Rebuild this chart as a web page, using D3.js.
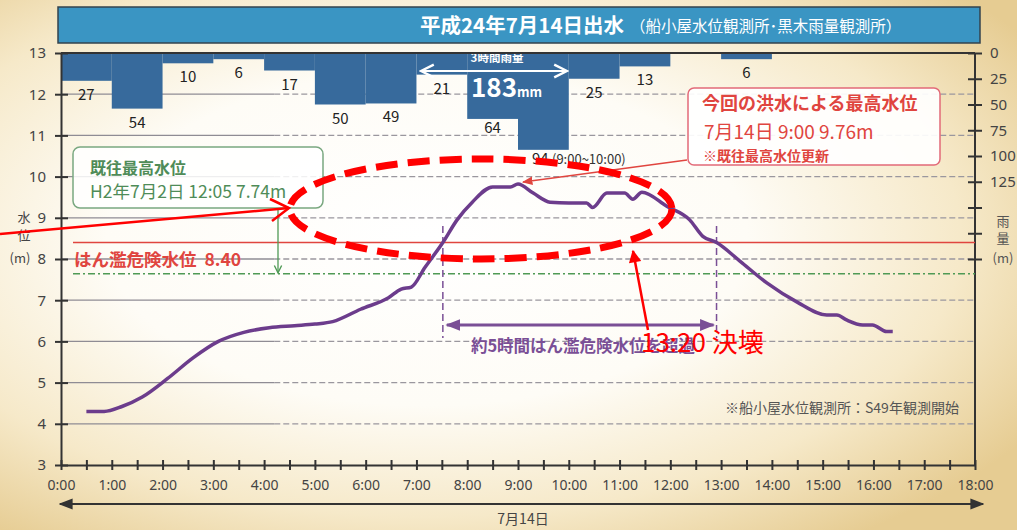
<!DOCTYPE html>
<html>
<head>
<meta charset="utf-8">
<script src="https://cdn.jsdelivr.net/npm/d3@7"></script>
<style>
  body { margin: 0; background: #fff; }
  svg { display: block; font-family: "Noto Sans CJK JP", "Noto Sans", sans-serif; }
</style>
</head>
<body>
<svg id="chart"></svg>
<script>
// water level at 船小屋 (hours after 0:00 on 7/14, metres)
const levelHours = [0.5, 0.85, 1.2, 1.6, 2.1, 2.6, 3.1, 3.6, 4.1, 4.6, 5.0, 5.35, 5.9, 6.45, 6.7, 6.9, 7.17, 7.52, 7.8, 8.1, 8.5, 8.85, 9.0, 9.3, 9.63, 10.0, 10.35, 10.47, 10.75, 11.1, 11.26, 11.44, 11.93, 12.38, 12.64, 12.91, 13.37, 13.9, 14.49, 15.08, 15.28, 15.47, 15.79, 15.98, 16.26, 16.38];
const levels = [4.30, 4.30, 4.42, 4.65, 5.10, 5.60, 6.00, 6.22, 6.33, 6.38, 6.42, 6.48, 6.78, 7.06, 7.27, 7.32, 7.80, 8.40, 8.95, 9.38, 9.75, 9.75, 9.82, 9.60, 9.38, 9.36, 9.36, 9.25, 9.60, 9.60, 9.45, 9.62, 9.28, 8.95, 8.55, 8.40, 7.95, 7.42, 6.96, 6.64, 6.64, 6.52, 6.40, 6.40, 6.24, 6.24];

// hourly rainfall at 黒木 (bar starts at hour, mm)
const rainHours = [0, 1, 2, 3, 4, 5, 6, 7, 8, 9, 10, 11, 12, 13];
const rainMm = [27, 54, 10, 6, 17, 50, 49, 21, 64, 94, 25, 13, 0, 6];

const levelTicks = [3, 4, 5, 6, 7, 8, 9, 10, 11, 12, 13];
const rainTicks = [0, 25, 50, 75, 100, 125, 150, 175, 200];
const rainLabelled = [0, 25, 50, 75, 100, 125];
const timeTicks = d3.range(0, 18.01, 0.5);

const dangerLevel = 8.40;
const recordLine = 7.64;
const overStart = 7.52, overEnd = 12.91;

const W = 1017, H = 530;
const svg = d3.select('#chart').attr('width', W).attr('height', H);

// background glow
const defs = svg.append('defs');
const grad = defs.append('radialGradient').attr('id', 'bg')
  .attr('cx', '42%').attr('cy', '45%').attr('r', '70%');
grad.append('stop').attr('offset', '0%').attr('stop-color', '#ffffff');
grad.append('stop').attr('offset', '45%').attr('stop-color', '#fefcf6');
grad.append('stop').attr('offset', '75%').attr('stop-color', '#f6e9c9');
grad.append('stop').attr('offset', '100%').attr('stop-color', '#e6cc92');
svg.append('rect').attr('width', W).attr('height', H).attr('fill', 'url(#bg)');

const x = d3.scaleLinear().domain([0, 18]).range([61, 975]);
const y = d3.scaleLinear().domain([3, 13]).range([465, 53]);
const yRain = d3.scaleLinear().domain([0, 200]).range([y(13), y(8)]);

// title banner
svg.append('rect').attr('x', 58).attr('y', 7).attr('width', 922).attr('height', 36)
  .attr('fill', '#3a95c3').attr('stroke', '#33434d').attr('stroke-width', 1.5);
svg.append('text').attr('x', 420).attr('y', 33).attr('fill', '#fff')
  .attr('font-size', 20.5).attr('font-weight', 'bold').text('平成24年7月14日出水');
svg.append('text').attr('x', 630).attr('y', 32).attr('fill', '#fff')
  .attr('font-size', 15.5).text('（船小屋水位観測所･黒木雨量観測所）');

// grid lines: solid near the axis, dashed further right
const grid = svg.append('g');
levelTicks.filter(d => d > 3 && d < 13).forEach(v => {
  grid.append('line').attr('x1', x(0)).attr('x2', x(4.2)).attr('y1', y(v)).attr('y2', y(v))
    .attr('stroke', '#8f8c94').attr('stroke-width', 1.3);
  grid.append('line').attr('x1', x(4.2)).attr('x2', x(18)).attr('y1', y(v)).attr('y2', y(v))
    .attr('stroke', '#9a979e').attr('stroke-width', 1.3).attr('stroke-dasharray', '6,3');
});

// rain bars hanging from the top
svg.append('g').selectAll('rect')
  .data(rainHours.map((h, i) => ({h, v: rainMm[i]})))
  .join('rect')
    .attr('x', d => x(d.h))
    .attr('y', yRain(0))
    .attr('width', d => x(d.h + 1) - x(d.h))
    .attr('height', d => yRain(d.v) - yRain(0))
    .attr('fill', '#376a9c');

svg.append('g').selectAll('text')
  .data(rainHours.map((h, i) => ({h, v: rainMm[i]})).filter(d => d.v > 0))
  .join('text')
    .attr('x', d => d.v === 94 ? x(d.h) + 14 : x(d.h + 0.5))
    .attr('y', d => yRain(d.v) + (d.v > 60 ? 14 : 19))
    .attr('text-anchor', d => d.v === 94 ? 'start' : 'middle')
    .attr('font-size', 15).attr('fill', '#222')
    .text(d => d.v);
svg.append('text').attr('x', x(9) + 34).attr('y', yRain(94) + 14)
  .attr('font-size', 13).attr('fill', '#333').text('(9:00~10:00)');

// 3 hour rainfall note
svg.append('text').attr('x', 497).attr('y', 62).attr('text-anchor', 'middle')
  .attr('font-size', 11.5).attr('font-weight', 'bold').attr('fill', '#fff').text('3時間雨量');
defs.append('marker').attr('id', 'wh').attr('viewBox', '0 0 10 10').attr('refX', 9).attr('refY', 5)
  .attr('markerWidth', 8).attr('markerHeight', 8).attr('orient', 'auto-start-reverse')
  .append('path').attr('d', 'M1,1 L9,5 L1,9').attr('fill', 'none').attr('stroke', '#fff').attr('stroke-width', 1.5);
svg.append('line').attr('x1', 421).attr('x2', 567).attr('y1', 71).attr('y2', 71)
  .attr('stroke', '#fff').attr('stroke-width', 2)
  .attr('marker-start', 'url(#wh)').attr('marker-end', 'url(#wh)');
const t183 = svg.append('text').attr('x', 471).attr('y', 97).attr('fill', '#fff').attr('font-weight', 'bold');
t183.append('tspan').attr('font-size', 26).text('183');
t183.append('tspan').attr('font-size', 13).text('mm');

// frame / axes
const axisColor = '#333';
svg.append('line').attr('x1', x(0)).attr('x2', x(18)).attr('y1', y(13)).attr('y2', y(13))
  .attr('stroke', axisColor).attr('stroke-width', 2);

const left = svg.append('g').attr('transform', `translate(${x(0)},0)`)
  .call(d3.axisLeft(y).tickValues(levelTicks).tickSize(6).tickPadding(9).tickSizeOuter(0));
left.selectAll('.tick line').attr('x2', 7).attr('x1', -6).attr('stroke', axisColor).attr('stroke-width', 2);
left.select('.domain').attr('stroke', axisColor).attr('stroke-width', 2);
left.selectAll('.tick text').attr('font-size', 15).attr('fill', '#444')
  .attr('font-family', '"Noto Sans", sans-serif');

const right = svg.append('g').attr('transform', `translate(${x(18)},0)`)
  .call(d3.axisRight(yRain).tickValues(rainTicks).tickSize(7).tickPadding(8).tickSizeOuter(0)
    .tickFormat(d => rainLabelled.includes(d) ? d : ''));
right.selectAll('.tick line').attr('x1', -7).attr('stroke', axisColor).attr('stroke-width', 2);
right.select('.domain').remove();
svg.append('line').attr('x1', x(18)).attr('x2', x(18)).attr('y1', y(13)).attr('y2', y(3))
  .attr('stroke', axisColor).attr('stroke-width', 2);
right.selectAll('.tick text').attr('font-size', 15).attr('fill', '#444')
  .attr('font-family', '"Noto Sans", sans-serif');

const bottom = svg.append('g').attr('transform', `translate(0,${y(3)})`)
  .call(d3.axisBottom(x).tickValues(timeTicks).tickSize(5).tickPadding(10).tickSizeOuter(0)
    .tickFormat(d => d % 1 === 0 ? `${d}:00` : ''));
bottom.selectAll('.tick line').attr('y1', -5).attr('stroke', axisColor).attr('stroke-width', 2);
bottom.select('.domain').attr('stroke', axisColor).attr('stroke-width', 2);
bottom.selectAll('.tick text').attr('font-size', 14).attr('fill', '#444')
  .attr('font-family', '"Noto Sans", sans-serif');

// axis titles
[['水', 222], ['位', 240]].forEach(([t, yy]) =>
  svg.append('text').attr('x', 24).attr('y', yy).attr('text-anchor', 'middle')
    .attr('font-size', 13).attr('fill', '#444').text(t));
svg.append('text').attr('x', 20).attr('y', 263).attr('text-anchor', 'middle')
  .attr('font-size', 13).attr('fill', '#444').text('(m)');
[['雨', 226], ['量', 243]].forEach(([t, yy]) =>
  svg.append('text').attr('x', 1003).attr('y', yy).attr('text-anchor', 'middle')
    .attr('font-size', 13).attr('fill', '#555').text(t));
svg.append('text').attr('x', 1003).attr('y', 263).attr('text-anchor', 'middle')
  .attr('font-size', 13).attr('fill', '#555').text('(m)');

// date arrow
defs.append('marker').attr('id', 'blk').attr('viewBox', '0 0 10 10').attr('refX', 9).attr('refY', 5)
  .attr('markerWidth', 7).attr('markerHeight', 7).attr('orient', 'auto-start-reverse')
  .append('path').attr('d', 'M0,1 L10,5 L0,9 Z').attr('fill', '#333');
svg.append('line').attr('x1', 60).attr('x2', 983).attr('y1', 504).attr('y2', 504)
  .attr('stroke', '#333').attr('stroke-width', 2)
  .attr('marker-start', 'url(#blk)').attr('marker-end', 'url(#blk)');
svg.append('text').attr('x', 523).attr('y', 524).attr('text-anchor', 'middle')
  .attr('font-size', 14).attr('fill', '#444').text('7月14日');

// danger level and previous record lines
svg.append('line').attr('x1', 73).attr('x2', x(18)).attr('y1', y(dangerLevel)).attr('y2', y(dangerLevel))
  .attr('stroke', '#e0453f').attr('stroke-width', 1.5);
svg.append('text').attr('x', 74).attr('y', 266).attr('font-size', 17.5).attr('font-weight', 'bold')
  .attr('fill', '#e0453f').attr('xml:space', 'preserve').text(`はん濫危険水位  ${dangerLevel.toFixed(2)}`);
svg.append('line').attr('x1', 73).attr('x2', x(18)).attr('y1', y(recordLine)).attr('y2', y(recordLine))
  .attr('stroke', '#4f9a55').attr('stroke-width', 1.5).attr('stroke-dasharray', '7,3,2,3');

// previous record box
svg.append('rect').attr('x', 73).attr('y', 147).attr('width', 250).attr('height', 61).attr('rx', 7)
  .attr('fill', '#fff').attr('fill-opacity', 0.85).attr('stroke', '#7aa880').attr('stroke-width', 1.5);
svg.append('text').attr('x', 90).attr('y', 174).attr('font-size', 16).attr('font-weight', 'bold')
  .attr('fill', '#4f8c58').text('既往最高水位');
svg.append('text').attr('x', 90).attr('y', 198).attr('font-size', 17.5)
  .attr('fill', '#4f8c58').text('H2年7月2日 12:05 7.74m');
defs.append('marker').attr('id', 'grn').attr('viewBox', '0 0 10 10').attr('refX', 9).attr('refY', 5)
  .attr('markerWidth', 7).attr('markerHeight', 7).attr('orient', 'auto')
  .append('path').attr('d', 'M1,1 L9,5 L1,9').attr('fill', 'none').attr('stroke', '#4f9a55').attr('stroke-width', 1.5);
svg.append('line').attr('x1', 278).attr('x2', 278).attr('y1', 210).attr('y2', y(recordLine) - 1)
  .attr('stroke', '#4f9a55').attr('stroke-width', 1.3).attr('marker-end', 'url(#grn)');

// exceedance span
[overStart, overEnd].forEach(h =>
  svg.append('line').attr('x1', x(h)).attr('x2', x(h)).attr('y1', 226).attr('y2', 338)
    .attr('stroke', '#7a4f96').attr('stroke-width', 1.5).attr('stroke-dasharray', '7,4'));
defs.append('marker').attr('id', 'pur').attr('viewBox', '0 0 10 10').attr('refX', 9).attr('refY', 5)
  .attr('markerWidth', 5).attr('markerHeight', 5).attr('orient', 'auto-start-reverse')
  .append('path').attr('d', 'M0,1 L10,5 L0,9 Z').attr('fill', '#7a4f96');
svg.append('line').attr('x1', x(overStart) + 4).attr('x2', x(overEnd) - 3).attr('y1', 325).attr('y2', 325)
  .attr('stroke', '#7a4f96').attr('stroke-width', 3)
  .attr('marker-start', 'url(#pur)').attr('marker-end', 'url(#pur)');
svg.append('text').attr('x', 583).attr('y', 352).attr('text-anchor', 'middle')
  .attr('font-size', 16.5).attr('font-weight', 'bold').attr('fill', '#7a4f96')
  .text('約5時間はん濫危険水位を超過');

// water level line
svg.append('path')
  .datum(levelHours.map((h, i) => [h, levels[i]]))
  .attr('d', d3.line().x(d => x(d[0])).y(d => y(d[1])).curve(d3.curveMonotoneX))
  .attr('fill', 'none').attr('stroke', '#6c3c8c').attr('stroke-width', 3.5)
  .attr('stroke-linejoin', 'round');

// this flood's record box
svg.append('rect').attr('x', 688).attr('y', 88).attr('width', 252).attr('height', 77).attr('rx', 6)
  .attr('fill', '#fff').attr('fill-opacity', 0.92).attr('stroke', '#e26a78').attr('stroke-width', 1.5);
svg.append('text').attr('x', 702).attr('y', 110).attr('font-size', 18).attr('font-weight', 'bold')
  .attr('fill', '#e0453f').text('今回の洪水による最高水位');
svg.append('text').attr('x', 704).attr('y', 138.5).attr('font-size', 19)
  .attr('fill', '#e0453f').text('7月14日 9:00 9.76m');
svg.append('text').attr('x', 703).attr('y', 161).attr('font-size', 14).attr('font-weight', 'bold')
  .attr('fill', '#e0453f').text('※既往最高水位更新');
defs.append('marker').attr('id', 'rd').attr('viewBox', '0 0 10 10').attr('refX', 9).attr('refY', 5)
  .attr('markerWidth', 7).attr('markerHeight', 7).attr('orient', 'auto')
  .append('path').attr('d', 'M0,1 L10,5 L0,9 Z').attr('fill', '#e0453f');
svg.append('line').attr('x1', 687).attr('y1', 160).attr('x2', x(9) + 5).attr('y2', y(9.82) - 2)
  .attr('stroke', '#e0453f').attr('stroke-width', 1.5).attr('marker-end', 'url(#rd)');

// observation note
svg.append('text').attr('x', 725).attr('y', 413).attr('font-size', 14).attr('fill', '#555')
  .text('※船小屋水位観測所：S49年観測開始');

// overlaid red markup
svg.append('ellipse').attr('cx', x(8.27)).attr('cy', 209).attr('rx', 191).attr('ry', 50)
  .attr('fill', 'none').attr('stroke', '#ff0000').attr('stroke-width', 7).attr('stroke-dasharray', '22,10');
svg.append('line').attr('x1', 0).attr('y1', 234).attr('x2', 289).attr('y2', 208)
  .attr('stroke', '#ff0000').attr('stroke-width', 2.5);
svg.append('path').attr('d', 'M270,199 L289,208 L272,221')
  .attr('fill', 'none').attr('stroke', '#ff0000').attr('stroke-width', 2.5);
defs.append('marker').attr('id', 'rr').attr('viewBox', '0 0 10 10').attr('refX', 9).attr('refY', 5)
  .attr('markerWidth', 7).attr('markerHeight', 5).attr('orient', 'auto')
  .append('path').attr('d', 'M0,0 L10,5 L0,10 Z').attr('fill', '#ff0000');
svg.append('line').attr('x1', 648).attr('y1', 330).attr('x2', 633).attr('y2', 251)
  .attr('stroke', '#ff0000').attr('stroke-width', 2.5).attr('marker-end', 'url(#rr)');
svg.append('text').attr('x', 641).attr('y', 352).attr('font-size', 26)
  .attr('font-family', '"Noto Sans CJK JP", sans-serif').attr('fill', '#ff0000').text('13:20 決壊');
</script>
</body>
</html>
